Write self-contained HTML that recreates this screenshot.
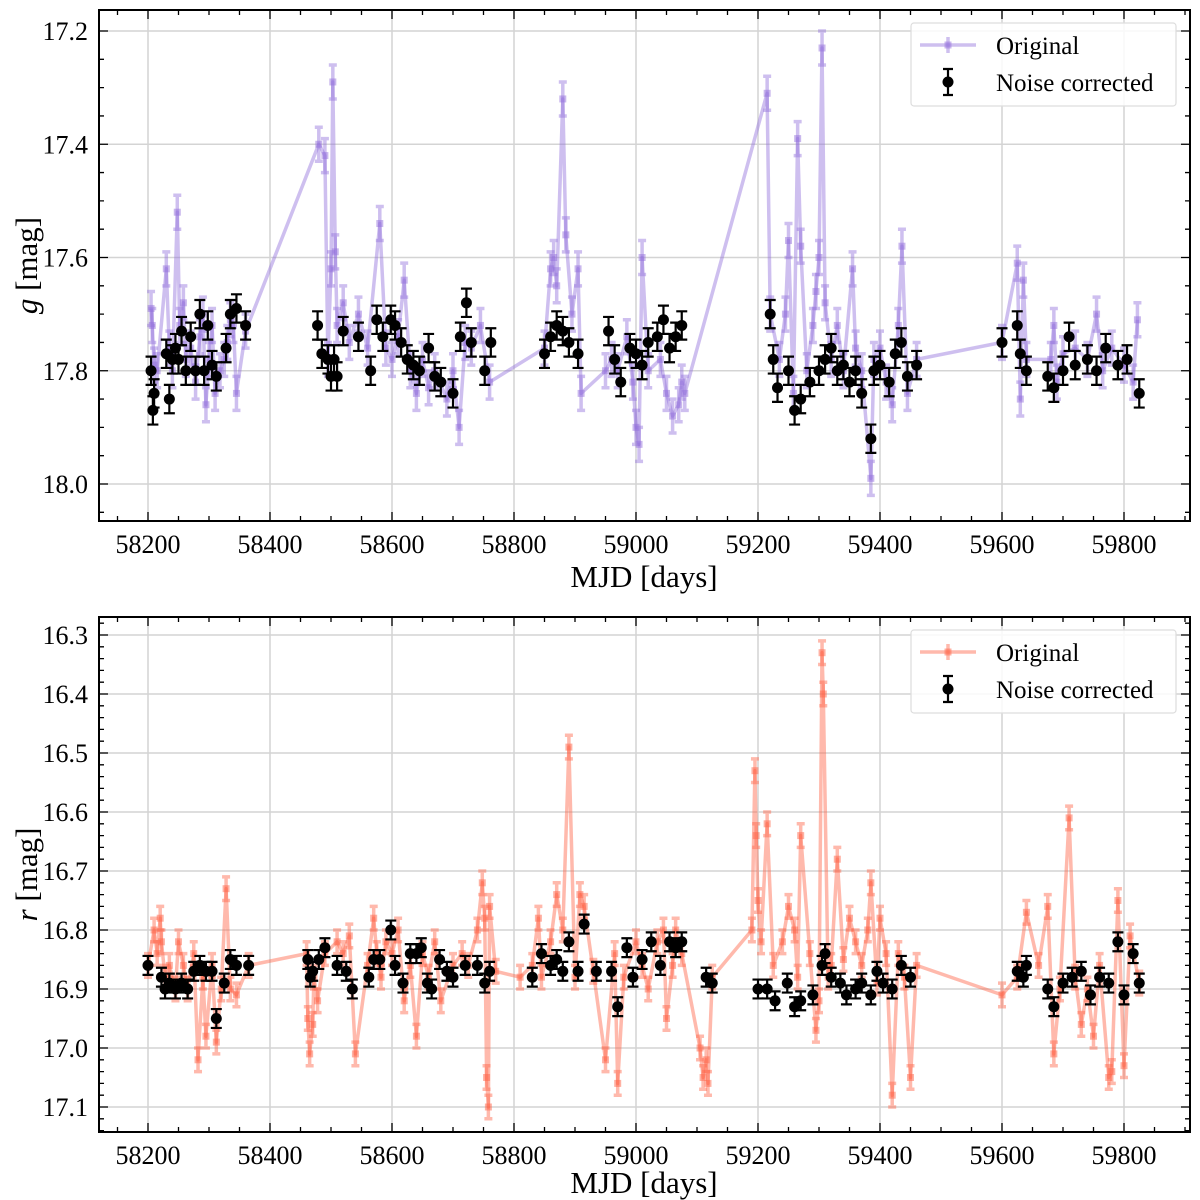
<!DOCTYPE html>
<html><head><meta charset="utf-8">
<style>
html,body{margin:0;padding:0;background:#fff;}
svg{display:block;font-family:"Liberation Serif",serif;}
</style></head>
<body>
<svg id="chart" width="1200" height="1200" viewBox="0 0 1200 1200" xmlns="http://www.w3.org/2000/svg"></svg>
<script>
// ---- g band data ----
const gOrigMjd=[58205,58207,58210,58215,58230,58235,58240,58248,58252,58258,58262,58270,58278,58285,58290,58295,58300,58305,58310,58318,58325,58330,58335,58340,58345,58360,58480,58490,58495,58500,58503,58507,58510,58520,58530,58545,58560,58580,58590,58600,58610,58620,58630,58640,58650,58660,58670,58690,58700,58710,58720,58730,58745,58760,58850,58860,58865,58870,58880,58885,58895,58905,58910,58950,58960,58970,58985,58995,59000,59005,59010,59020,59040,59050,59060,59070,59075,59080,59215,59220,59235,59245,59250,59258,59265,59270,59280,59290,59295,59300,59305,59310,59320,59330,59340,59355,59360,59370,59385,59390,59400,59410,59420,59430,59436,59445,59460,59600,59625,59630,59635,59640,59680,59685,59690,59700,59720,59740,59755,59765,59780,59800,59815,59822];
const gOrigMag=[17.69,17.72,17.79,17.80,17.62,17.76,17.80,17.52,17.72,17.68,17.78,17.76,17.82,17.74,17.70,17.86,17.78,17.72,17.84,17.80,17.78,17.75,17.71,17.72,17.84,17.73,17.40,17.42,17.78,17.62,17.29,17.59,17.72,17.68,17.75,17.70,17.76,17.54,17.76,17.78,17.74,17.64,17.80,17.84,17.78,17.83,17.80,17.85,17.80,17.90,17.75,17.76,17.72,17.82,17.76,17.62,17.60,17.65,17.32,17.56,17.70,17.62,17.84,17.80,17.78,17.80,17.74,17.82,17.90,17.93,17.60,17.80,17.78,17.84,17.88,17.86,17.82,17.84,17.31,17.70,17.78,17.70,17.57,17.84,17.39,17.58,17.80,17.72,17.66,17.60,17.23,17.68,17.78,17.72,17.80,17.62,17.76,17.80,17.99,17.78,17.76,17.82,17.86,17.72,17.58,17.84,17.78,17.75,17.61,17.85,17.64,17.78,17.78,17.72,17.82,17.77,17.76,17.78,17.70,17.80,17.76,17.79,17.82,17.71];
const gCorrMjd=[58205,58208,58210,58230,58235,58240,58245,58250,58255,58262,58270,58278,58285,58292,58298,58305,58312,58328,58335,58345,58360,58478,58485,58495,58500,58505,58510,58520,58545,58565,58575,58585,58598,58605,58615,58625,58635,58645,58660,58670,58680,58700,58712,58722,58730,58752,58762,58850,58860,58870,58880,58890,58905,58955,58965,58975,58990,59000,59010,59020,59035,59045,59055,59065,59075,59220,59225,59232,59250,59260,59270,59285,59300,59310,59320,59330,59340,59350,59360,59370,59385,59390,59400,59415,59425,59435,59445,59460,59600,59625,59630,59640,59675,59685,59700,59710,59720,59740,59755,59770,59790,59805,59825];
const gCorrMag=[17.80,17.87,17.84,17.77,17.85,17.78,17.76,17.78,17.73,17.80,17.74,17.80,17.70,17.80,17.72,17.79,17.81,17.76,17.70,17.69,17.72,17.72,17.77,17.78,17.81,17.78,17.81,17.73,17.74,17.80,17.71,17.74,17.71,17.72,17.75,17.78,17.79,17.80,17.76,17.81,17.82,17.84,17.74,17.68,17.75,17.80,17.75,17.77,17.74,17.72,17.73,17.75,17.77,17.73,17.78,17.82,17.76,17.77,17.79,17.75,17.74,17.71,17.76,17.74,17.72,17.70,17.78,17.83,17.80,17.87,17.85,17.82,17.80,17.78,17.76,17.80,17.79,17.82,17.80,17.84,17.92,17.80,17.79,17.82,17.77,17.75,17.81,17.79,17.75,17.72,17.77,17.80,17.81,17.83,17.80,17.74,17.79,17.78,17.80,17.76,17.79,17.78,17.84];
// ---- r band data ----
const rOrigMjd=[58200,58210,58215,58220,58222,58228,58235,58245,58250,58258,58265,58275,58282,58290,58295,58305,58312,58320,58328,58335,58345,58365,58460,58462,58465,58470,58472,58478,58490,58510,58520,58530,58540,58560,58570,58575,58582,58590,58600,58610,58620,58630,58640,58650,58660,58670,58680,58700,58715,58725,58740,58748,58752,58755,58758,58760,58770,58810,58830,58840,58845,58860,58870,58880,58890,58900,58908,58915,58930,58950,58965,58970,58980,59000,59010,59020,59035,59045,59050,59060,59065,59075,59105,59110,59115,59118,59125,59190,59195,59197,59200,59205,59215,59225,59240,59250,59260,59265,59270,59285,59295,59300,59305,59307,59315,59320,59330,59340,59350,59360,59370,59380,59385,59395,59400,59410,59420,59430,59440,59450,59460,59600,59625,59640,59660,59675,59685,59695,59710,59720,59730,59740,59750,59760,59775,59780,59790,59800,59810,59825];
const rOrigMag=[16.86,16.80,16.84,16.78,16.82,16.88,16.86,16.90,16.82,16.86,16.90,16.84,17.02,16.88,16.98,16.86,16.99,16.90,16.73,16.90,16.91,16.86,16.84,16.95,17.01,16.96,16.88,16.92,16.84,16.82,16.84,16.81,17.01,16.86,16.78,16.84,16.88,16.82,16.84,16.80,16.92,16.86,16.98,16.84,16.88,16.82,16.92,16.86,16.84,16.86,16.80,16.72,16.78,17.05,17.10,16.76,16.87,16.88,16.86,16.78,16.88,16.82,16.74,16.80,16.49,16.88,16.74,16.76,16.87,17.02,16.84,17.06,16.88,16.82,16.86,16.90,16.82,16.80,16.95,16.86,16.80,16.84,17.00,17.05,17.02,17.06,16.88,16.80,16.53,16.64,16.75,16.82,16.62,16.86,16.82,16.76,16.80,16.88,16.64,16.84,16.97,16.92,16.33,16.40,16.88,16.86,16.68,16.85,16.78,16.82,16.86,16.80,16.72,16.89,16.78,16.84,17.08,16.84,16.88,17.05,16.86,16.91,16.88,16.77,16.86,16.76,17.01,16.90,16.61,16.88,16.96,16.90,16.98,16.86,17.05,17.04,16.75,17.03,16.81,16.89];
const rCorrMjd=[58200,58222,58228,58235,58245,58255,58265,58275,58285,58295,58305,58312,58325,58335,58345,58365,58462,58466,58470,58480,58490,58510,58525,58535,58562,58570,58580,58598,58605,58618,58630,58640,58648,58658,58665,58678,58690,58700,58720,58740,58752,58760,58830,58845,58860,58870,58880,58890,58905,58915,58935,58960,58970,58985,58995,59010,59025,59040,59055,59065,59075,59115,59125,59200,59215,59228,59248,59260,59270,59290,59305,59310,59320,59335,59345,59360,59370,59385,59395,59405,59420,59435,59450,59625,59635,59640,59675,59685,59700,59715,59730,59745,59760,59775,59790,59800,59815,59825];
const rCorrMag=[16.86,16.88,16.90,16.89,16.90,16.89,16.90,16.87,16.86,16.87,16.87,16.95,16.89,16.85,16.86,16.86,16.85,16.88,16.87,16.85,16.83,16.86,16.87,16.90,16.88,16.85,16.85,16.80,16.86,16.89,16.84,16.84,16.83,16.89,16.90,16.85,16.87,16.88,16.86,16.86,16.89,16.87,16.88,16.84,16.86,16.85,16.87,16.82,16.87,16.79,16.87,16.87,16.93,16.83,16.88,16.85,16.82,16.86,16.82,16.83,16.82,16.88,16.89,16.90,16.90,16.92,16.89,16.93,16.92,16.91,16.86,16.84,16.88,16.89,16.91,16.90,16.89,16.91,16.87,16.89,16.90,16.86,16.88,16.87,16.88,16.86,16.90,16.93,16.89,16.88,16.87,16.91,16.88,16.89,16.82,16.91,16.84,16.89];
const xTicks=[58200,58400,58600,58800,59000,59200,59400,59600,59800];
const gTicks=[17.2,17.4,17.6,17.8,18.0];
const rTicks=[16.3,16.4,16.5,16.6,16.7,16.8,16.9,17.0,17.1];

const NS="http://www.w3.org/2000/svg";
const svg=document.getElementById('chart');
function mk(tag,attrs,parent){const e=document.createElementNS(NS,tag);for(const k in attrs)e.setAttribute(k,attrs[k]);(parent||svg).appendChild(e);return e;}

function panel(cfg){
  const L=99,R=1190,T=cfg.top,B=cfg.bottom;
  const xs=m=>148+(m-58200)*0.61;
  const ys=v=>cfg.y0px+(v-cfg.y0)*cfg.pxPerMag;
  const g=mk('g',{});
  
  
  xTicks.forEach(t=>{const l=mk('line',{x1:xs(t),x2:xs(t),y1:T,y2:B,stroke:'#d4d4d4','stroke-width':1.5},g);
    });
  cfg.yTicks.forEach(t=>{const l=mk('line',{x1:L,x2:R,y1:ys(t),y2:ys(t),stroke:'#d4d4d4','stroke-width':1.5},g);
    });
  const og=mk('g',{},g);
  
  
  let d='';cfg.oM.forEach((m,i)=>{d+=(i?'L':'M')+xs(m).toFixed(1)+','+ys(cfg.oV[i]).toFixed(1);});
  mk('path',{d:d,fill:'none',stroke:cfg.color,'stroke-opacity':0.45,'stroke-width':3.5,'stroke-linejoin':'round'},og);
  cfg.oM.forEach((m,i)=>{const x=xs(m),y=ys(cfg.oV[i]),e=cfg.oErr*cfg.pxPerMag;
    const l=mk('path',{d:`M${x},${y-e}V${y+e}M${x-4},${y-e}H${x+4}M${x-4},${y+e}H${x+4}`,stroke:cfg.color,'stroke-opacity':0.45,'stroke-width':3.5,fill:'none'},og);
    
    const r=mk('rect',{x:x-3.5,y:y-3.5,width:7,height:7,fill:cfg.color,'fill-opacity':0.5},og);
    });
  const cg=mk('g',{},g);
  
  
  cfg.cM.forEach((m,i)=>{const x=xs(m),y=ys(cfg.cV[i]),e=cfg.cErr*cfg.pxPerMag;
    const p=mk('path',{d:`M${x},${y-e}V${y+e}M${x-5.5},${y-e}H${x+5.5}M${x-5.5},${y+e}H${x+5.5}`,stroke:'#000','stroke-width':2.2,fill:'none'},cg);
    
    const c=mk('circle',{cx:x,cy:y,r:5.5,fill:'#000'},cg);
    });
  const fr=mk('rect',{x:L,y:T,width:R-L,height:B-T,fill:'none',stroke:'#000','stroke-width':2},g);
  
  let td='';
  for(let m=58150;m<=59900;m+=50){const x=xs(m),len=(m%200===0)?9:5;td+=`M${x},${B}v${-len}M${x},${T}v${len}`;}
  for(let v=cfg.yMinor0;v<=cfg.yMax+1e-9;v+=cfg.yMinor){const y=ys(v);if(y<T||y>B)continue;
    const major=cfg.yTicks.some(t=>Math.abs(t-v)<1e-6),len=major?9:5;td+=`M${L},${y}h${len}M${R},${y}h${-len}`;}
  const tk=mk('path',{d:td,stroke:'#000','stroke-width':1.3,fill:'none'},g);
  
  xTicks.forEach(t=>{const tx=mk('text',{x:xs(t),y:B+32,'font-size':26,'text-anchor':'middle'},g);tx.textContent=t;
    });
  cfg.yTicks.forEach(t=>{const tx=mk('text',{x:88,y:ys(t)+9,'font-size':26,'text-anchor':'end'},g);tx.textContent=t.toFixed(1);
    });
  const xl=mk('text',{x:644,y:B+cfg.xlOff,'font-size':31,'text-anchor':'middle'},g);xl.textContent='MJD [days]';
  
  const yl=mk('text',{x:0,y:0,'font-size':31,'text-anchor':'middle',transform:`translate(37,${(T+B)/2}) rotate(-90)`},g);
  yl.innerHTML=`<tspan font-style="italic">${cfg.band}</tspan> [mag]`;
  
  const lg=mk('g',{},g);
  
  const ly=T+13;
  mk('rect',{x:911,y:ly,width:265,height:83,fill:'#fff','fill-opacity':0.85,stroke:'#ddd','stroke-width':1.2,rx:3},lg);
  mk('line',{x1:920,x2:976,y1:ly+22,y2:ly+22,stroke:cfg.color,'stroke-opacity':0.45,'stroke-width':3.5},lg);
  mk('line',{x1:948,x2:948,y1:ly+14,y2:ly+30,stroke:cfg.color,'stroke-opacity':0.45,'stroke-width':3.5},lg);
  mk('rect',{x:944.5,y:ly+18.5,width:7,height:7,fill:cfg.color,'fill-opacity':0.5},lg);
  mk('path',{d:`M948,${ly+46}V${ly+72}M943,${ly+46}H953M943,${ly+72}H953`,stroke:'#000','stroke-width':2.2},lg);
  mk('circle',{cx:948,cy:ly+59,r:5.5,fill:'#000'},lg);
  const t1=mk('text',{x:996,y:ly+31,'font-size':25},lg);t1.textContent='Original';
  
  const t2=mk('text',{x:996,y:ly+68,'font-size':25},lg);t2.textContent='Noise corrected';
  
}

panel({name:'g-band',band:'g',top:10,bottom:521,y0:17.2,y0px:31,pxPerMag:566.25,yTicks:gTicks,yMinor:0.05,yMinor0:17.15,yMax:18.1,xlOff:66,
  color:'#9370DB',oM:gOrigMjd,oV:gOrigMag,cM:gCorrMjd,cV:gCorrMag,oErr:0.03,cErr:0.025});
panel({name:'r-band',band:'r',top:617,bottom:1132,y0:16.3,y0px:635,pxPerMag:590,yTicks:rTicks,yMinor:0.02,yMinor0:16.26,yMax:17.16,xlOff:61,
  color:'#FF6347',oM:rOrigMjd,oV:rOrigMag,cM:rCorrMjd,cV:rCorrMag,oErr:0.02,cErr:0.016});
</script>
</body></html>
